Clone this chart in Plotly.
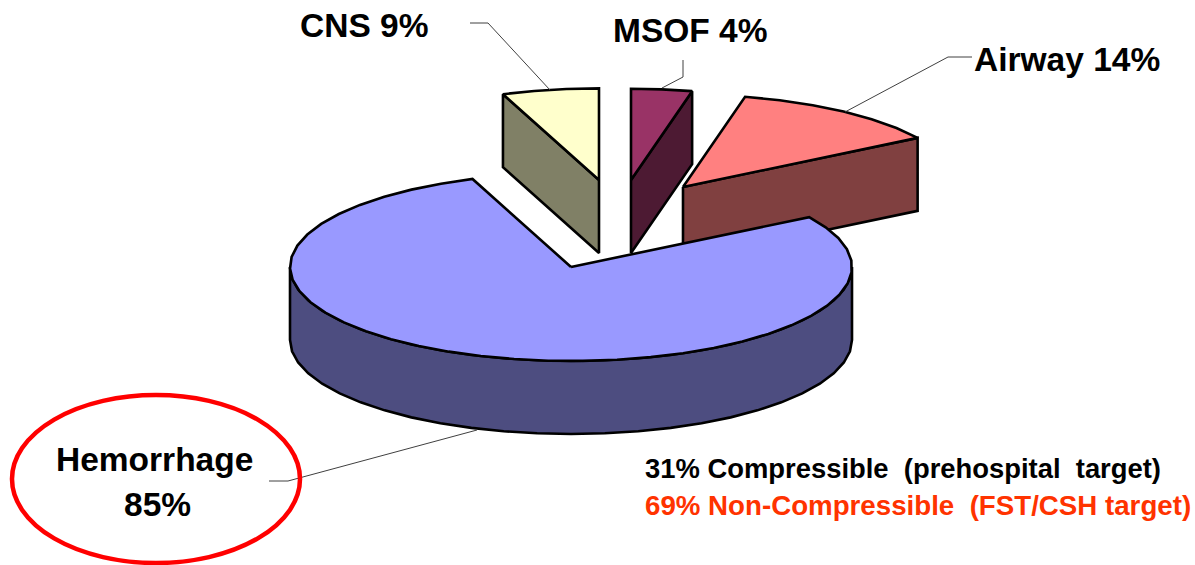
import numpy as np
import plotly.graph_objects as go

# Slices, clockwise from north. Shares are read from the drawn angles; the
# printed labels (as in the original) sum to more than 100 and stay separate.
categories = ["MSOF", "Airway", "Hemorrhage", "CNS"]
slice_shares = [3.6, 12.5, 78.2, 5.7]
label_percent = [4, 14, 85, 9]

top_colors = ["#993366", "#ff8080", "#9999ff", "#ffffcc"]
side_colors = ["#4d1a33", "#804040", "#4d4d80", "#808066"]

# Projection of the pie
RX, RY, DEPTH = 281, 94, 73
radius_scale = [0.97, 0.985, 1.0, 0.975]
apex_x = [631, 683, 571, 599]
apex_y = [180, 187, 267, 180]
FACET_DEG = 7

fig = go.Figure()
cum = np.concatenate([[0], np.cumsum(slice_shares)]) / 100 * 2 * np.pi


def rim(i, th):
    s = radius_scale[i]
    return apex_x[i] + s * RX * np.sin(th), apex_y[i] - s * RY * np.cos(th)


def arc(a, b):
    n = max(2, int(round(np.degrees(b - a) / FACET_DEG)) + 1)
    return np.linspace(a, b, n)


def poly(xs, ys, color, lw=2.6):
    fig.add_trace(go.Scatter(x=list(xs), y=list(ys), mode="lines", fill="toself",
                             fillcolor=color, line=dict(color="black", width=lw),
                             hoverinfo="skip", showlegend=False))


def cut_face(i, th):
    cx, cy = apex_x[i], apex_y[i]
    rx, ry = rim(i, th)
    poly([cx, rx, rx, cx, cx], [cy, ry, ry + DEPTH, cy + DEPTH, cy], side_colors[i])


def top(i):
    cx, cy = apex_x[i], apex_y[i]
    rx, ry = rim(i, arc(cum[i], cum[i + 1]))
    poly(np.r_[cx, rx, cx], np.r_[cy, ry, cy], top_colors[i])


# Back slices first, front slice last
cut_face(3, cum[3]); top(3)      # CNS
cut_face(0, cum[1]); top(0)      # MSOF
cut_face(1, cum[2]); top(1)      # Airway

sx, sy = rim(2, arc(np.pi / 2, 3 * np.pi / 2))
poly(np.r_[sx, sx[::-1], sx[0]], np.r_[sy, sy[::-1] + DEPTH, sy[0]], side_colors[2])
top(2)                            # Hemorrhage

# Leader lines
leaders = [
    ([470, 488, 550], [23, 23, 90]),
    ([683, 683, 662], [60, 77, 88]),
    ([972, 948, 845], [57, 57, 112]),
    ([269, 288, 477], [481, 481, 430]),
]
for lx, ly in leaders:
    fig.add_trace(go.Scatter(x=lx, y=ly, mode="lines", line=dict(color="#404040", width=1),
                             hoverinfo="skip", showlegend=False))

FONT = "Liberation Sans, Arial, sans-serif"


def text(x, y, s, size=33.5, color="black", anchor="center"):
    fig.add_annotation(x=x, y=y, text=f"<b>{s}</b>", showarrow=False, xanchor=anchor,
                       yanchor="middle", font=dict(family=FONT, size=size, color=color))


text(364, 25, f"{categories[3]} {label_percent[3]}%")
text(690, 30, f"{categories[0]} {label_percent[0]}%")
text(1067, 59, f"{categories[1]} {label_percent[1]}%")
text(154, 459, categories[2], size=33.5)
text(157, 504, f"{label_percent[2]}%")
text(643, 468, "31% Compressible\u00a0 (prehospital\u00a0 target)", size=27.4, anchor="left")
text(643, 505, "69% Non-Compressible\u00a0 (FST/CSH target)", size=27.7, color="#ff3300", anchor="left")

fig.add_shape(type="circle", xref="x", yref="y", x0=12, x1=300, y0=395, y1=563,
              line=dict(color="#ff0000", width=4.5))

fig.update_layout(width=1195, height=565, margin=dict(l=0, r=0, t=0, b=0),
                  paper_bgcolor="white", plot_bgcolor="white", showlegend=False,
                  xaxis=dict(range=[0, 1195], visible=False, fixedrange=True),
                  yaxis=dict(range=[565, 0], visible=False, fixedrange=True))

fig.write_html("out.html", config={"displayModeBar": False},
               post_script="document.body.style.margin='0';document.body.style.overflow='hidden';")
